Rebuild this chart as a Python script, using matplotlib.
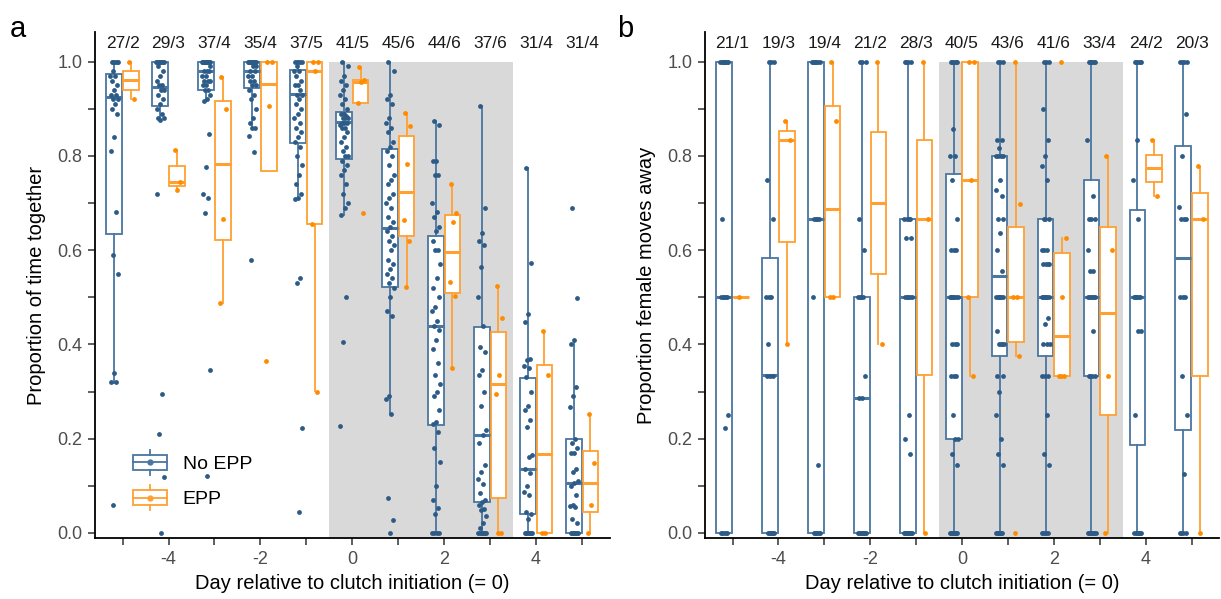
import matplotlib
matplotlib.use('Agg')
import matplotlib.pyplot as plt
from matplotlib.legend_handler import HandlerBase
from matplotlib.patches import Rectangle
from matplotlib.lines import Line2D
import numpy as np

plt.rcParams['font.family'] = ['Liberation Sans', 'DejaVu Sans']

BLUE_LINE = '#4a76a0'
BLUE_PT = '#2d5b87'
ORANGE_LINE = '#ffa033'
ORANGE_PT = '#ff8c00'
GRAY_BAND = '#d9d9d9'

DAYS = [-5, -4, -3, -2, -1, 0, 1, 2, 3, 4, 5]

# ---------------- panel a: proportion of time together ----------------
A_COUNTS = ['27/2', '29/3', '37/4', '35/4', '37/5', '41/5', '45/6', '44/6', '37/6', '31/4', '31/4']

# box stats: q1, median, q3, lower whisker, upper whisker
A_NO_Q1 = [0.635, 0.905, 0.939, 0.944, 0.827, 0.794, 0.521, 0.228, 0.066, 0.040, 0.0]
A_NO_MED = [0.925, 0.946, 0.980, 0.980, 0.932, 0.872, 0.648, 0.440, 0.207, 0.135, 0.105]
A_NO_Q3 = [0.974, 1.0, 1.0, 1.0, 0.982, 0.894, 0.815, 0.630, 0.436, 0.329, 0.199]
A_NO_LO = [0.317, 0.877, 0.917, 0.859, 0.708, 0.674, 0.252, 0.0, 0.0, 0.0, 0.0]
A_NO_HI = [1.0, 1.0, 1.0, 1.0, 1.0, 1.0, 1.0, 0.875, 0.905, 0.774, 0.402]

A_EPP_Q1 = [0.941, 0.736, 0.621, 0.769, 0.655, 0.912, 0.630, 0.510, 0.073, 0.0, 0.045]
A_EPP_MED = [0.961, 0.745, 0.783, 0.953, 0.980, 0.958, 0.723, 0.597, 0.315, 0.167, 0.105]
A_EPP_Q3 = [0.980, 0.779, 0.917, 1.0, 1.0, 0.961, 0.843, 0.674, 0.426, 0.357, 0.174]
A_EPP_LO = [0.921, 0.727, 0.487, 0.769, 0.301, 0.912, 0.521, 0.350, 0.0, 0.0, 0.0]
A_EPP_HI = [1.0, 0.813, 0.967, 1.0, 1.0, 0.988, 0.891, 0.741, 0.524, 0.428, 0.252]

A_NO_PTS = [
    [1, 1, 1, 1, 1, 0.98, 0.97, 0.97, 0.96, 0.95, 0.94, 0.93, 0.93, 0.92, 0.92, 0.91, 0.90, 0.89,
     0.84, 0.81, 0.68, 0.59, 0.55, 0.34, 0.32, 0.32, 0.06],
    [1] * 8 + [0.99, 0.98, 0.97, 0.96, 0.95, 0.95, 0.94, 0.94, 0.93, 0.92, 0.91, 0.90, 0.89, 0.88,
               0.88, 0.877, 0.72, 0.295, 0.209, 0.119, 0.0],
    [1] * 14 + [0.99, 0.98, 0.98, 0.98, 0.97, 0.97, 0.96, 0.96, 0.96, 0.95, 0.95, 0.94, 0.94, 0.93,
                0.92, 0.917, 0.846, 0.777, 0.72, 0.711, 0.679, 0.345, 0.12],
    [1] * 14 + [0.99, 0.99, 0.98, 0.98, 0.97, 0.97, 0.96, 0.96, 0.95, 0.95, 0.94, 0.93, 0.92, 0.90,
                0.88, 0.87, 0.86, 0.859, 0.842, 0.808, 0.579],
    [1] * 5 + [0.99, 0.98, 0.98, 0.97, 0.96, 0.95, 0.95, 0.94, 0.93, 0.93, 0.92, 0.91, 0.90, 0.89,
               0.88, 0.87, 0.86, 0.85, 0.84, 0.83, 0.82, 0.80, 0.78, 0.76, 0.74, 0.72, 0.71, 0.708,
               0.541, 0.530, 0.223, 0.045],
    [1.0, 0.99, 0.97, 0.96, 0.95, 0.94, 0.93, 0.92, 0.91, 0.90, 0.89, 0.89, 0.885, 0.88, 0.88, 0.88,
     0.87, 0.87, 0.87, 0.865, 0.86, 0.86, 0.85, 0.84, 0.83, 0.82, 0.81, 0.80, 0.80, 0.79, 0.78,
     0.77, 0.76, 0.74, 0.72, 0.70, 0.69, 0.674, 0.501, 0.406, 0.226],
    [1.0, 0.98, 0.93, 0.92, 0.91, 0.88, 0.87, 0.86, 0.85, 0.83, 0.82, 0.81, 0.80, 0.78, 0.76, 0.75,
     0.74, 0.72, 0.71, 0.70, 0.69, 0.67, 0.66, 0.65, 0.64, 0.63, 0.62, 0.61, 0.60, 0.58, 0.57, 0.56,
     0.55, 0.54, 0.53, 0.52, 0.50, 0.47, 0.46, 0.29, 0.285, 0.252, 0.073, 0.027, 0.0],
    [0.875, 0.865, 0.79, 0.79, 0.76, 0.76, 0.70, 0.68, 0.67, 0.65, 0.64, 0.62, 0.60, 0.60, 0.57,
     0.54, 0.52, 0.50, 0.48, 0.47, 0.45, 0.44, 0.43, 0.41, 0.39, 0.36, 0.334, 0.316, 0.30, 0.29,
     0.26, 0.235, 0.23, 0.213, 0.18, 0.15, 0.10, 0.07, 0.052, 0.04, 0.0, 0.0, 0.0, 0.0],
    [0.905, 0.69, 0.636, 0.62, 0.61, 0.565, 0.50, 0.44, 0.394, 0.384, 0.345, 0.334, 0.30, 0.27,
     0.218, 0.207, 0.19, 0.144, 0.13, 0.115, 0.104, 0.084, 0.07, 0.066, 0.06, 0.05, 0.049, 0.035,
     0.02, 0.01] + [0.0] * 7,
    [0.774, 0.573, 0.465, 0.448, 0.37, 0.366, 0.355, 0.35, 0.33, 0.30, 0.27, 0.26, 0.24, 0.225,
     0.165, 0.16, 0.135, 0.126, 0.10, 0.087, 0.08, 0.045, 0.04, 0.03] + [0.0] * 7,
    [0.69, 0.498, 0.41, 0.40, 0.31, 0.29, 0.267, 0.199, 0.19, 0.18, 0.17, 0.17, 0.135, 0.13, 0.11,
     0.105, 0.10, 0.08, 0.06, 0.057, 0.055, 0.03, 0.02] + [0.0] * 8,
]
A_EPP_PTS = [
    [1.0, 0.92],
    [0.813, 0.745, 0.727],
    [0.967, 0.899, 0.667, 0.487],
    [1.0, 1.0, 0.905, 0.364],
    [1.0, 1.0, 0.98, 0.655, 0.30],
    [0.988, 0.961, 0.958, 0.912, 0.679],
    [0.891, 0.864, 0.783, 0.664, 0.62, 0.521],
    [0.741, 0.679, 0.66, 0.533, 0.503, 0.35],
    [0.524, 0.457, 0.336, 0.295, 0.0, 0.0],
    [0.428, 0.334, 0.0, 0.0],
    [0.252, 0.149, 0.059, 0.0],
]

# ---------------- panel b: proportion female moves away ----------------
B_COUNTS = ['21/1', '19/3', '19/4', '21/2', '28/3', '40/5', '43/6', '41/6', '33/4', '24/2', '20/3']

B_NO_Q1 = [0.0, 0.0, 0.0, 0.0, 0.0, 0.2, 0.375, 0.375, 0.333, 0.1875, 0.219]
B_NO_MED = [0.5, 0.334, 0.667, 0.286, 0.5, 0.5, 0.545, 0.5, 0.5, 0.5, 0.583]
B_NO_Q3 = [1.0, 0.583, 1.0, 0.5, 0.667, 0.762, 0.80, 0.667, 0.75, 0.686, 0.822]
B_NO_LO = [0.0] * 11
B_NO_HI = [1.0] * 11

B_EPP_Q1 = [0.5, 0.617, 0.5, 0.549, 0.334, 0.5, 0.406, 0.333, 0.25, 0.744, 0.333]
B_EPP_MED = [0.5, 0.833, 0.688, 0.70, 0.667, 0.75, 0.5, 0.417, 0.466, 0.774, 0.667]
B_EPP_Q3 = [0.5, 0.853, 0.906, 0.851, 0.833, 1.0, 0.65, 0.593, 0.65, 0.803, 0.722]
B_EPP_LO = [0.5, 0.40, 0.5, 0.4, 0.0, 0.333, 0.375, 0.333, 0.0, 0.714, 0.0]
B_EPP_HI = [0.5, 0.875, 1.0, 1.0, 1.0, 1.0, 1.0, 0.625, 0.8, 0.833, 0.777]

B_NO_PTS = [
    [1.0] * 8 + [0.667] + [0.5] * 5 + [0.25, 0.222] + [0.0] * 5,
    [1.0] * 3 + [0.75, 0.667] + [0.5] * 3 + [0.4] + [0.333] * 3 + [0.0] * 7,
    [1.0] * 7 + [0.667] * 4 + [0.5, 0.143] + [0.0] * 6,
    [1.0] * 3 + [0.667, 0.6] + [0.5] * 4 + [0.333] + [0.286] * 2 + [0.0] * 9,
    [1.0] * 4 + [0.667] * 4 + [0.625] * 2 + [0.5] * 5 + [0.25, 0.2, 0.167] + [0.0] * 10,
    [1.0] * 5 + [0.857] + [0.8] * 2 + [0.75, 0.667] + [0.6] * 3 + [0.5] * 7 + [0.4] * 3
    + [0.333] * 3 + [0.25] + [0.2] * 2 + [0.167, 0.143] + [0.0] * 9,
    [1.0] * 3 + [0.833] * 2 + [0.817] + [0.8] * 4 + [0.75, 0.727, 0.714] + [0.667] * 2
    + [0.636, 0.6, 0.556] + [0.5] * 6 + [0.429] + [0.4] * 4 + [0.333] * 2
    + [0.3, 0.25, 0.2, 0.167, 0.143] + [0.0] * 7,
    [1.0] * 3 + [0.9, 0.833, 0.8, 0.778, 0.75] + [0.667] * 3 + [0.6] * 3 + [0.571] * 4 + [0.5] * 7
    + [0.455, 0.444] + [0.4] * 3 + [0.333] * 3 + [0.25, 0.167, 0.143] + [0.0] * 5,
    [1.0] * 6 + [0.833, 0.714] + [0.667] * 3 + [0.6] + [0.556] * 2 + [0.5] * 6 + [0.429]
    + [0.333] * 4 + [0.0] * 8,
    [1.0] * 5 + [0.833, 0.75, 0.667] + [0.5] * 6 + [0.429] * 2 + [0.25] + [0.0] * 7,
    [1.0] * 4 + [0.889, 0.8, 0.692] + [0.667] * 3 + [0.5] * 3 + [0.333, 0.25, 0.125] + [0.0] * 4,
]
B_EPP_PTS = [
    [0.5],
    [0.875, 0.833, 0.4],
    [1.0, 0.875, 0.5, 0.5],
    [1.0, 0.4],
    [1.0, 0.667, 0.0],
    [1.0, 1.0, 0.75, 0.5, 0.333],
    [1.0, 0.699, 0.5, 0.5, 0.375, 0.0],
    [1.0, 0.625, 0.5, 0.333, 0.333, 0.333],
    [0.8, 0.6, 0.333, 0.0],
    [0.833, 0.714],
    [0.778, 0.667, 0.0],
]

DODGE = 0.18
BOX_W = 0.34
JIT = 0.09


def stats_list(q1, med, q3, lo, hi):
    return [dict(q1=a, med=b, q3=c, whislo=d, whishi=e, fliers=[])
            for a, b, c, d, e in zip(q1, med, q3, lo, hi)]


def jitter(n):
    # deterministic spread of points across the box width
    return (np.modf(np.arange(n) * 0.618034 + 0.31)[0] - 0.5) * 2 * JIT


def draw_group(ax, stats, pts, offset, line_col, pt_col):
    pos = [d + offset for d in DAYS]
    ax.bxp(stats, positions=pos, widths=BOX_W, showcaps=False, showfliers=False,
           patch_artist=True, manage_ticks=False,
           boxprops=dict(facecolor='white', edgecolor=line_col, linewidth=1.3),
           medianprops=dict(color=line_col, linewidth=2.2, solid_capstyle='butt'),
           whiskerprops=dict(color=line_col, linewidth=1.3),
           zorder=2)
    for p, vals in zip(pos, pts):
        xs = p + jitter(len(vals))
        ax.scatter(xs, vals, s=12, color=pt_col, linewidths=0, zorder=3)


class BoxKey(HandlerBase):
    def create_artists(self, legend, orig_handle, xdescent, ydescent, width, height, fontsize, trans):
        c = orig_handle.get_color()
        x0, y0 = -xdescent, -ydescent
        cx = x0 + width / 2
        b0, b1 = y0 + height * 0.2, y0 + height * 0.8
        box = Rectangle((x0, b0), width, b1 - b0, facecolor='white', edgecolor=c, lw=1.3, transform=trans)
        med = Line2D([x0, x0 + width], [y0 + height / 2] * 2, color=c, lw=1.3, transform=trans)
        w1 = Line2D([cx, cx], [y0, b0], color=c, lw=1.3, transform=trans)
        w2 = Line2D([cx, cx], [b1, y0 + height], color=c, lw=1.3, transform=trans)
        dot = Line2D([cx], [y0 + height / 2], marker='o', ms=3.5, color=c, lw=0, transform=trans)
        return [box, med, w1, w2, dot]


def setup_axes(ax, counts, ylabel):
    ax.add_patch(Rectangle((-0.5, -0.05), 4.0, 1.05, facecolor=GRAY_BAND, edgecolor='none', zorder=0))
    ax.set_xlim(-5.6, 5.6)
    ax.set_ylim(-0.011, 1.063)
    for s in ['top', 'right']:
        ax.spines[s].set_visible(False)
    for s in ['left', 'bottom']:
        ax.spines[s].set_linewidth(1.3)
        ax.spines[s].set_color('black')
    for d, c in zip(DAYS, counts):
        ax.text(d, 1.038, c, ha='center', va='center', fontsize=12.5, color='#1a1a1a')
    ax.set_xlabel('Day relative to clutch initiation (= 0)', fontsize=14.5, labelpad=5)
    ax.set_ylabel(ylabel, fontsize=14.5, labelpad=8)


def set_ticks(ax):
    ax.set_xticks(DAYS)
    ax.set_xticklabels(['' if d % 2 else str(d) for d in DAYS])
    yt = np.round(np.arange(0, 1.01, 0.1), 1)
    ax.set_yticks(yt)
    ax.set_yticklabels([f'{v:.1f}' if round(v * 10) % 2 == 0 else '' for v in yt])
    ax.tick_params(length=5, width=1.1, color='#333333', labelcolor='#4d4d4d', labelsize=13, pad=4)


fig = plt.figure(figsize=(12.21, 5.99), dpi=100)
ax_a = fig.add_axes([0.0778, 0.1018, 0.4215, 0.8447])
ax_b = fig.add_axes([0.5774, 0.1018, 0.421, 0.8447])

setup_axes(ax_a, A_COUNTS, 'Proportion of time together')
draw_group(ax_a, stats_list(A_NO_Q1, A_NO_MED, A_NO_Q3, A_NO_LO, A_NO_HI), A_NO_PTS, -DODGE, BLUE_LINE, BLUE_PT)
draw_group(ax_a, stats_list(A_EPP_Q1, A_EPP_MED, A_EPP_Q3, A_EPP_LO, A_EPP_HI), A_EPP_PTS, DODGE, ORANGE_LINE, ORANGE_PT)
set_ticks(ax_a)

setup_axes(ax_b, B_COUNTS, 'Proportion female moves away')
draw_group(ax_b, stats_list(B_NO_Q1, B_NO_MED, B_NO_Q3, B_NO_LO, B_NO_HI), B_NO_PTS, -DODGE, BLUE_LINE, BLUE_PT)
draw_group(ax_b, stats_list(B_EPP_Q1, B_EPP_MED, B_EPP_Q3, B_EPP_LO, B_EPP_HI), B_EPP_PTS, DODGE, ORANGE_LINE, ORANGE_PT)
set_ticks(ax_b)

h_no = Line2D([], [], color=BLUE_LINE)
h_epp = Line2D([], [], color=ORANGE_LINE)
ax_a.legend([h_no, h_epp], ['No EPP', 'EPP'], handler_map={Line2D: BoxKey()},
            loc='lower left', bbox_to_anchor=(0.04, 0.02), frameon=False, fontsize=14,
            handlelength=1.75, handleheight=1.6, labelspacing=0.55, handletextpad=0.8)

fig.text(0.008, 0.975, 'a', fontsize=21, va='top', ha='left')
fig.text(0.505, 0.975, 'b', fontsize=21, va='top', ha='left')

fig.savefig('out.png', dpi=100)
